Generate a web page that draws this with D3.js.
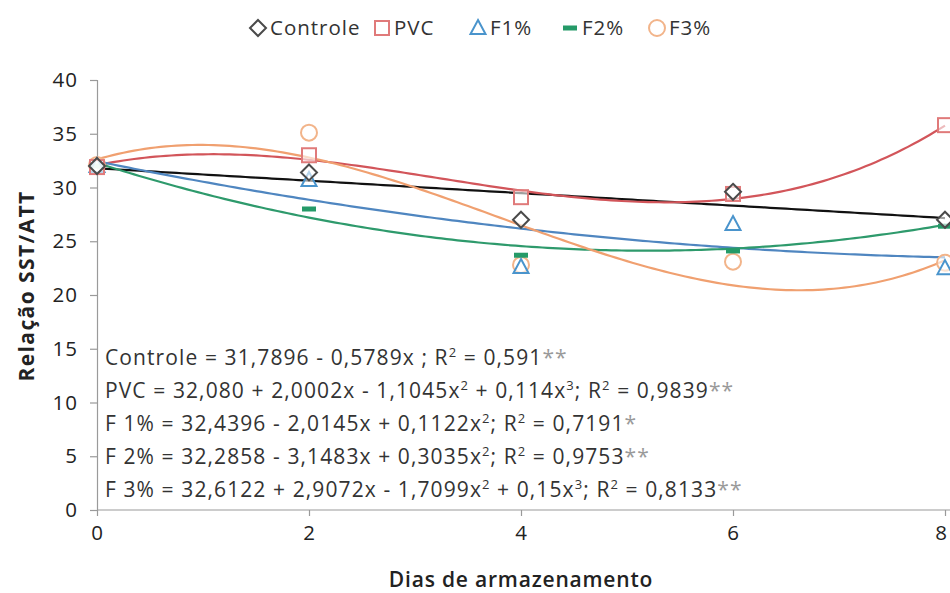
<!DOCTYPE html>
<html>
<head>
<meta charset="utf-8">
<script src="https://cdn.jsdelivr.net/npm/d3@7"></script>
<style>
  html, body { margin: 0; padding: 0; background: #fff; }
  svg { display: block; font-family: "Open Sans", sans-serif; }
</style>
</head>
<body>
<svg id="chart" width="950" height="593"></svg>
<script>
// Storage days and the SST/ATT ratio measured for each treatment
const days = [0, 2, 4, 6, 8];
const seriesNames = ["Controle", "PVC", "F1%", "F2%", "F3%"];
const controle = [32.0, 31.4, 27.0, 29.6, 27.0];
const pvc = [31.9, 33.0, 29.1, 29.4, 35.8];
const f1 = [32.0, 30.7, 22.6, 26.6, 22.5];
const f2 = [32.0, 28.0, 23.7, 24.1, 26.4];
const f3 = [32.1, 35.1, 22.8, 23.1, 23.0];

// Fitted regression coefficients (constant, x, x², x³)
const coefControle = [31.7896, -0.5789];
const coefPvc = [32.080, 2.0002, -1.1045, 0.114];
const coefF1 = [32.4396, -2.0145, 0.1122];
const coefF2 = [32.2858, -3.1483, 0.3035];
const coefF3 = [32.6122, 2.9072, -1.7099, 0.15];

const xTicks = [0, 2, 4, 6, 8];
const yTicks = [0, 5, 10, 15, 20, 25, 30, 35, 40];

const series = [
  { name: seriesNames[0], values: controle, coef: coefControle, marker: "diamond", mColor: "#4a4a4a", lColor: "#111111" },
  { name: seriesNames[1], values: pvc, coef: coefPvc, marker: "square", mColor: "#e07a7a", lColor: "#d2555a" },
  { name: seriesNames[2], values: f1, coef: coefF1, marker: "triangle", mColor: "#4a94cc", lColor: "#4f86c0" },
  { name: seriesNames[3], values: f2, coef: coefF2, marker: "dash", mColor: "#259a68", lColor: "#2e9a6c" },
  { name: seriesNames[4], values: f3, coef: coefF3, marker: "circle", mColor: "#f2b48a", lColor: "#f0a070" }
];

const svg = d3.select("#chart");
const x = d3.scaleLinear().domain([0, 8]).range([97, 945]);
const y = d3.scaleLinear().domain([0, 40]).range([510, 80]);

// Axes
const gx = svg.append("g").attr("transform", "translate(0,510)")
  .call(d3.axisBottom(x).tickValues(xTicks).tickSize(6).tickPadding(9).tickFormat(d3.format("d")));
gx.select(".domain").attr("d", "M97,0H950");
const gy = svg.append("g").attr("transform", "translate(97,0)")
  .call(d3.axisLeft(y).tickValues(yTicks).tickSize(7).tickPadding(12).tickFormat(d3.format("d")));
[gx, gy].forEach(g => {
  g.selectAll(".domain").attr("stroke", "#9a9a9a").attr("stroke-width", 1.2);
  g.selectAll(".tick line").attr("stroke", "#9a9a9a").attr("stroke-width", 1.2);
  g.selectAll(".tick text").attr("fill", "#222").style("font-size", "20.5px")
    .style("letter-spacing", "1px")
    .style("font-family", "'Open Sans', sans-serif");
});
// keep the last day label inside the right edge
gx.selectAll(".tick text").filter(d => d === 8).attr("dx", "-4");

// Axis titles
svg.append("text").attr("x", 521).attr("y", 587).attr("text-anchor", "middle")
  .attr("fill", "#222").style("font-size", "21px").style("font-weight", "600")
  .style("letter-spacing", "0.8px")
  .text("Dias de armazenamento");
svg.append("text").attr("transform", "translate(34,286) rotate(-90)").attr("text-anchor", "middle")
  .attr("fill", "#222").style("font-size", "21px").style("font-weight", "bold")
  .style("letter-spacing", "1.4px")
  .text("Relação SST/ATT");

// Regression curves
const poly = (c, v) => c.reduce((s, k, i) => s + k * Math.pow(v, i), 0);
const xs = d3.range(0, 8.0001, 0.05);
const line = d3.line().x(d => x(d[0])).y(d => y(d[1])).curve(d3.curveLinear);
series.forEach(s => {
  svg.append("path")
    .datum(xs.map(v => [v, poly(s.coef, v)]))
    .attr("d", line).attr("fill", "none")
    .attr("stroke", s.lColor).attr("stroke-width", 2.2);
});

// Marker shapes
function drawMarker(g, type, color, cx, cy) {
  if (type === "diamond") {
    g.append("path").attr("d", `M${cx},${cy - 8}L${cx + 8},${cy}L${cx},${cy + 8}L${cx - 8},${cy}Z`)
      .attr("fill", "#fff").attr("fill-opacity", 0.6).attr("stroke", color).attr("stroke-width", 2);
  } else if (type === "square") {
    g.append("rect").attr("x", cx - 7).attr("y", cy - 7).attr("width", 14).attr("height", 14)
      .attr("fill", "#fff").attr("fill-opacity", 0.6).attr("stroke", color).attr("stroke-width", 2);
  } else if (type === "triangle") {
    g.append("path").attr("d", `M${cx},${cy - 8}L${cx + 7.5},${cy + 6}L${cx - 7.5},${cy + 6}Z`)
      .attr("fill", "#fff").attr("fill-opacity", 0.6).attr("stroke", color).attr("stroke-width", 2);
  } else if (type === "dash") {
    g.append("rect").attr("x", cx - 7).attr("y", cy - 2.5).attr("width", 14).attr("height", 5)
      .attr("fill", color);
  } else if (type === "circle") {
    g.append("circle").attr("cx", cx).attr("cy", cy).attr("r", 8)
      .attr("fill", "#fff").attr("fill-opacity", 0.6).attr("stroke", color).attr("stroke-width", 2);
  }
}

const gm = svg.append("g");
[4, 3, 2, 1, 0].forEach(i => {
  const s = series[i];
  s.values.forEach((v, j) => drawMarker(gm, s.marker, s.mColor, x(days[j]), y(v)));
});

// Legend
const legendX = [258, 382, 478, 570, 657];
const lg = svg.append("g");
series.forEach((s, i) => {
  drawMarker(lg, s.marker, s.mColor, legendX[i], 28);
  lg.append("text").attr("x", legendX[i] + 12).attr("y", 35)
    .attr("fill", "#333").style("font-size", "20.5px").style("letter-spacing", "1px").text(s.name);
});

// Regression equations; "^" marks a superscript, "*" a significance mark
const eqs = [
  ["Controle = 31,7896 - 0,5789x ; R", "^2", " = 0,591", "**"],
  ["PVC = 32,080 + 2,0002x - 1,1045x", "^2", " + 0,114x", "^3", "; R", "^2", " = 0,9839", "**"],
  ["F 1% = 32,4396 - 2,0145x + 0,1122x", "^2", "; R", "^2", " = 0,7191", "*"],
  ["F 2% = 32,2858 - 3,1483x + 0,3035x", "^2", "; R", "^2", " = 0,9753", "**"],
  ["F 3% = 32,6122 + 2,9072x - 1,7099x", "^2", " + 0,15x", "^3", "; R", "^2", " = 0,8133", "**"]
];
eqs.forEach((parts, i) => {
  const t = svg.append("text").attr("x", 105).attr("y", 364.5 + i * 33.2)
    .attr("fill", "#333").style("font-size", "21px").style("letter-spacing", "1.1px");
  let shift = 0;
  parts.forEach(p => {
    if (p.startsWith("^")) {
      t.append("tspan").attr("dy", -8 - shift).style("font-size", "13px").text(p.slice(1));
      shift = -8;
    } else {
      const ts = t.append("tspan").attr("dy", -shift).text(p);
      if (p.startsWith("*")) ts.attr("fill", "#9a9a9a");
      shift = 0;
    }
  });
});
</script>
</body>
</html>
